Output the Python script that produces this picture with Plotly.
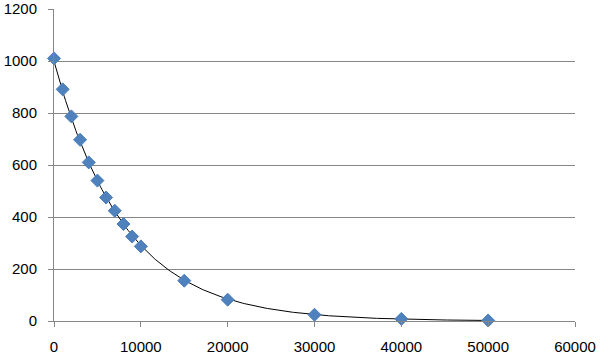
import numpy as np
import plotly.graph_objects as go

x_vals = [0, 1000, 2000, 3000, 4000, 5000, 6000, 7000, 8000, 9000, 10000,
          15000, 20000, 30000, 40000, 50000]
y_vals = [1010, 891, 787, 697, 610, 540, 475, 424, 373, 325, 287,
          155, 82, 24, 8, 2]
x_ticks = [0, 10000, 20000, 30000, 40000, 50000, 60000]
y_ticks = [0, 200, 400, 600, 800, 1000, 1200]

# Exponential trendline fitted to the data (as Excel does: least squares on ln y)
b, ln_a = np.polyfit(np.array(x_vals, float), np.log(np.array(y_vals, float)), 1)
tx = np.linspace(min(x_vals), max(x_vals), 300)
ty = np.exp(ln_a) * np.exp(b * tx)

fig = go.Figure()
fig.add_trace(go.Scatter(x=tx, y=ty, mode="lines",
                         line=dict(color="black", width=1), hoverinfo="skip",
                         cliponaxis=False))
fig.add_trace(go.Scatter(x=x_vals, y=y_vals, mode="markers", cliponaxis=False,
                         marker=dict(symbol="diamond", size=10, color="#4F81BD",
                                     line=dict(color="#4A7EBB", width=1))))

axis_font = dict(family="Liberation Sans, Arial, sans-serif", size=15, color="black")
fig.update_layout(
    width=601, height=358,
    margin=dict(l=54, r=26, t=9, b=37, autoexpand=False),
    paper_bgcolor="white", plot_bgcolor="white",
    showlegend=False,
    xaxis=dict(range=[0, 60000], tickvals=x_ticks, ticktext=[str(v) for v in x_ticks],
               showgrid=False, zeroline=False, showline=True, linecolor="#868686",
               linewidth=1, ticks="outside", ticklen=5, tickcolor="#868686",
               tickfont=axis_font, ticklabelstandoff=7, automargin=False),
    yaxis=dict(range=[0, 1200], tickvals=y_ticks, ticktext=[str(v) for v in y_ticks],
               showgrid=True, gridcolor="#868686", gridwidth=1, zeroline=False,
               showline=True, linecolor="#868686", linewidth=1, ticks="outside",
               ticklen=5, tickcolor="#868686", tickfont=axis_font, ticklabelstandoff=8,
               automargin=False),
)
fig.write_html("out.html", config={"displayModeBar": False},
               post_script="document.body.style.margin='0';document.body.style.padding='0';")
